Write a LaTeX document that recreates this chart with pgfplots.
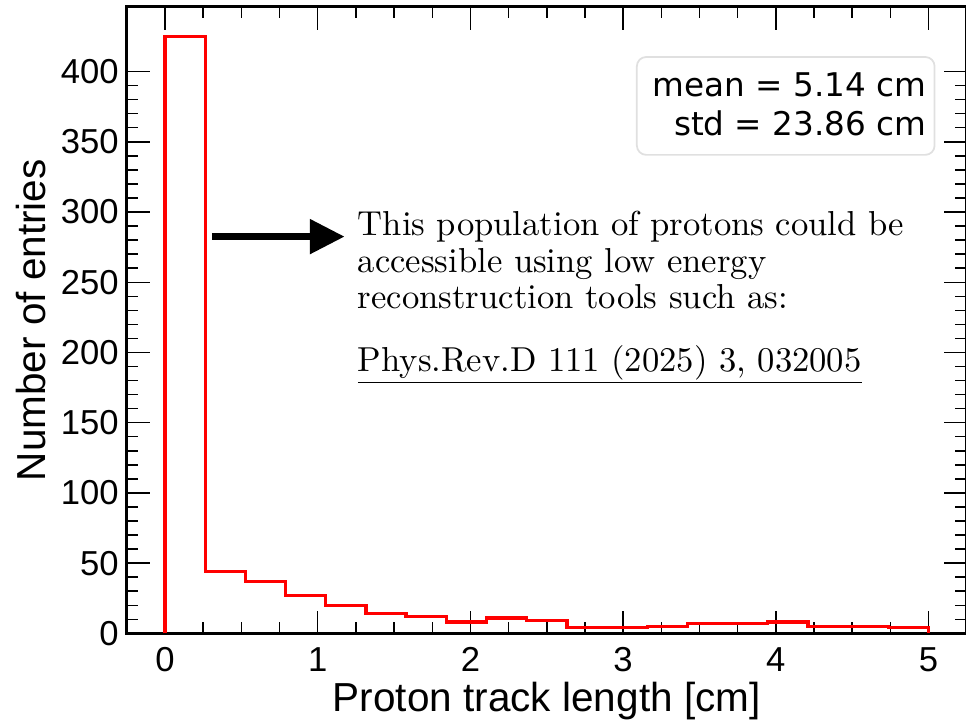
\documentclass[border=0pt]{standalone}
\usepackage{fontspec}
\setsansfont{Liberation Sans}
\newfontfamily\dejavu{DejaVu Sans}
\newfontfamily\cmten{lmroman10-regular}[Extension=.otf]
\usepackage{pgfplots}
\pgfplotsset{compat=1.18}
\usetikzlibrary{arrows.meta}

\begin{document}
\begin{tikzpicture}
\begin{axis}[
  scale only axis,
  width=630.5pt, height=470.25pt,
  xmin=-0.25, xmax=5.25, ymin=0, ymax=446,
  axis line style={line width=2.25pt},
  tick align=inside,
  xtick pos=both, ytick pos=both,
  xticklabel pos=lower, yticklabel pos=left,
  xtick={0,1,2,3,4,5}, minor x tick num=3,
  ytick={0,50,...,400}, minor y tick num=4,
  major tick length=17pt, minor tick length=8.5pt,
  every tick/.style={black, line width=1.1pt},
  /pgf/number format/assume math mode=true,
  ticklabel style={font=\sffamily\fontsize{26}{26}\selectfont},
  yticklabel style={anchor=east, inner xsep=0pt, xshift=-6pt},
  xticklabel style={anchor=north, inner ysep=0pt, yshift=-10.5pt},
  xlabel={Proton track length [cm]},
  ylabel={Number of entries},
  label style={font=\sffamily\fontsize{30.4}{32}\selectfont},
  xlabel style={at={(axis description cs:0.5,-0.1255)}, anchor=base},
  ylabel style={at={(axis description cs:-0.0965,0.5)}, anchor=base},
  clip=false,
]
\addplot[const plot, red, line width=2.5pt, line join=miter] coordinates {
  (0,0) (0,425) (0.26316,44) (0.52632,37) (0.78947,27) (1.05263,20)
  (1.31579,14) (1.57895,12) (1.84211,8) (2.10526,11) (2.36842,9)
  (2.63158,4) (2.89474,4) (3.15789,5) (3.42105,7) (3.68421,7)
  (3.94737,8) (4.21053,5) (4.47368,5) (4.73684,4) (5,0)
};
% stats box
\draw[rounded corners=7pt, draw=black!12, line width=1.3pt, fill=white]
  (axis cs:3.09,340.7) rectangle (axis cs:5.04,410.4);
\node[anchor=base east, inner sep=0pt, font=\dejavu\fontsize{24.5}{26}\selectfont]
  at (axis cs:4.987,382.0) {mean = 5.14 cm};
\node[anchor=base east, inner sep=0pt, font=\dejavu\fontsize{24.5}{26}\selectfont]
  at (axis cs:4.987,354.2) {std = 23.86 cm};
% arrow
\draw[line width=5.25pt, -{Triangle[length=26pt, width=25pt]}]
  (axis cs:0.307,282.5) -- (axis cs:1.176,282.5);
% annotation
\node[anchor=base west, inner sep=0pt, font=\cmten\fontsize{26}{27}\selectfont]
  at (axis cs:1.261,283.1) {This population of protons could be};
\node[anchor=base west, inner sep=0pt, font=\cmten\fontsize{26}{27}\selectfont]
  at (axis cs:1.261,257.2) {accessible using low energy};
\node[anchor=base west, inner sep=0pt, font=\cmten\fontsize{26}{27}\selectfont]
  at (axis cs:1.261,231.2) {reconstruction tools such as:};
\node[anchor=base west, inner sep=0pt, font=\cmten\fontsize{26}{27}\selectfont]
  at (axis cs:1.261,186.4) {\underline{Phys.Rev.D 111 (2025) 3, 032005}};
\end{axis}
\pgfresetboundingbox
\path ([shift={(-95.25pt,-65.25pt)}]current axis.south west)
  rectangle ([shift={(-0.5pt,5.25pt)}]current axis.north east);
\end{tikzpicture}
\end{document}
